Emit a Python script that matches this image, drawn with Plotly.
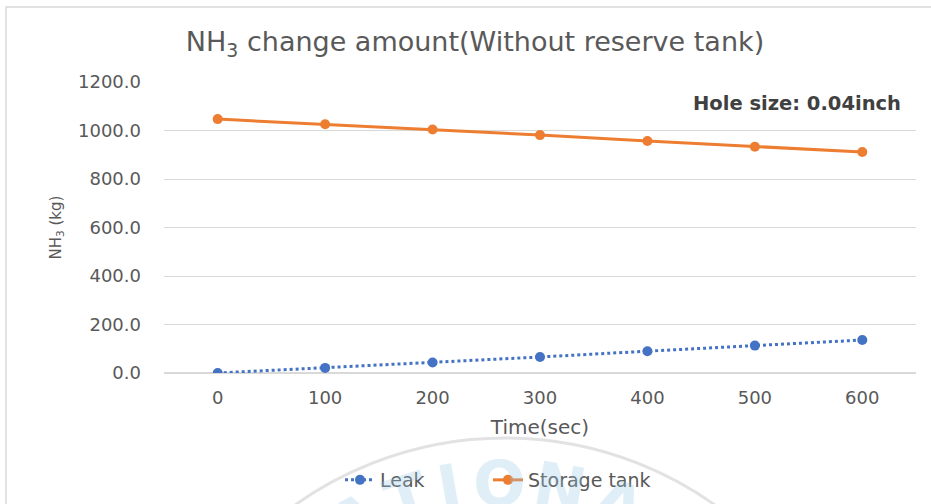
import math
import plotly.graph_objects as go

# Time steps (s) and NH3 inventories (kg)
time_sec = [0, 100, 200, 300, 400, 500, 600]
leak_kg = [0.0, 21.0, 43.0, 66.0, 90.0, 113.0, 136.0]
storage_kg = [1047.0, 1026.0, 1004.0, 981.0, 957.0, 933.0, 911.0]
y_ticks = [0, 200, 400, 600, 800, 1000, 1200]
y_tick_labels = ["0.0", "200.0", "400.0", "600.0", "800.0", "1000.0", "1200.0"]

BLUE = "#4472C4"
ORANGE = "#ED7D31"
GRID = "#D9D9D9"
TEXT = "#595959"
FONT = "DejaVu Sans"

W, H = 931, 504
ML, MR, MT, MB = 164, 15, 82, 131
PW, PH = W - ML - MR, H - MT - MB


def px_x(px):
    """pixel column -> paper x"""
    return (px - ML) / PW


def px_y(py):
    """pixel row -> paper y"""
    return (H - MB - py) / PH


fig = go.Figure()
fig.add_trace(go.Scatter(
    x=time_sec, y=leak_kg, name="Leak", mode="lines+markers",
    line=dict(color=BLUE, width=3, dash="dot"),
    marker=dict(color=BLUE, size=10),
    legend="legend",
))
fig.add_trace(go.Scatter(
    x=time_sec, y=storage_kg, name="Storage tank", mode="lines+markers",
    line=dict(color=ORANGE, width=3),
    marker=dict(color=ORANGE, size=10),
    legend="legend2",
))

legend_style = dict(
    orientation="h", xanchor="left", y=px_y(480), yanchor="middle",
    font=dict(family=FONT, size=19, color=TEXT), bgcolor="rgba(0,0,0,0)",
)

fig.update_layout(
    width=W, height=H,
    margin=dict(l=ML, r=MR, t=MT, b=MB, autoexpand=False),
    paper_bgcolor="white", plot_bgcolor="white",
    font=dict(family=FONT, color=TEXT, size=18),
    title=dict(
        text="NH<sub>3</sub> change amount(Without reserve tank)",
        x=475 / W, xanchor="center", y=1 - 42 / H, yanchor="middle",
        font=dict(family=FONT, size=27, color=TEXT),
    ),
    showlegend=True,
    legend=dict(x=px_x(340), **legend_style),
    legend2=dict(x=px_x(488), **legend_style),
    xaxis=dict(
        range=[-50, 650], tickmode="array", tickvals=time_sec,
        ticktext=[str(t) for t in time_sec],
        showgrid=False, zeroline=False, showline=False, ticks="",
        ticklabelstandoff=12,
        tickfont=dict(family=FONT, size=18, color=TEXT),
        title=dict(text="Time(sec)", font=dict(family=FONT, size=20, color=TEXT), standoff=12),
    ),
    yaxis=dict(
        range=[0, 1200], tickmode="array", tickvals=y_ticks, ticktext=y_tick_labels,
        showgrid=True, gridcolor=GRID, gridwidth=1, zeroline=True, zerolinecolor=GRID,
        showline=False, ticks="", ticklabelstandoff=22,
        tickfont=dict(family=FONT, size=18, color=TEXT),
        title=dict(text="NH<sub>3</sub> (kg)", font=dict(family=FONT, size=15, color=TEXT), standoff=12),
    ),
)

# Case label
fig.add_annotation(
    xref="paper", yref="paper", x=px_x(903), y=px_y(104), xanchor="right", yanchor="middle",
    text="Hole size: 0.04inch", showarrow=False,
    font=dict(family=FONT, size=19.5, color="#404040", weight="bold"),
    bgcolor="white",
)

# Chart area frame
fig.add_shape(type="rect", xref="paper", yref="paper",
              x0=px_x(6), x1=px_x(W + 20), y0=px_y(H + 20), y1=px_y(7),
              line=dict(color=GRID, width=1.5), fillcolor="rgba(0,0,0,0)", layer="below")

# Faint institutional seal behind the legend
cx, cy, r = 505, 800, 362
fig.add_shape(type="circle", xref="paper", yref="paper",
              x0=px_x(cx - r), x1=px_x(cx + r), y0=px_y(cy + r), y1=px_y(cy - r),
              line=dict(color="rgba(190,190,195,0.45)", width=3), layer="below")
seal_letters = ["N", "A", "T", "I", "O", "N", "A", "L"]
seal_angles = [-38, -28, -18, -10, -1, 10, 21, 32]
for ch, ang in zip(seal_letters, seal_angles):
    rr = r - 45
    lx = cx + rr * math.sin(math.radians(ang))
    ly = cy - rr * math.cos(math.radians(ang))
    fig.add_annotation(
        xref="paper", yref="paper", x=px_x(lx), y=px_y(ly),
        xanchor="center", yanchor="middle", text=ch, showarrow=False,
        textangle=ang,
        font=dict(family=FONT, size=62, color="rgba(150,200,230,0.30)", weight="bold"),
    )

fig.write_html("out.html")
